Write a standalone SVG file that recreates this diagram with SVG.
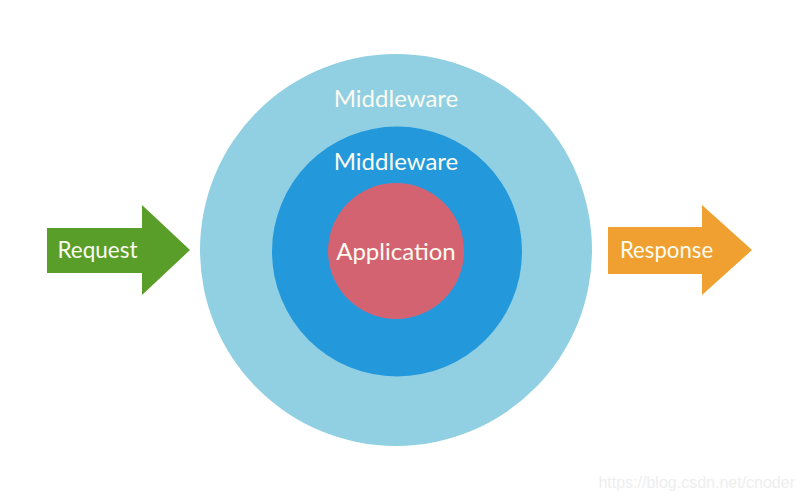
<svg xmlns="http://www.w3.org/2000/svg" width="800" height="500" viewBox="0 0 800 500">
<style>
.lbl{font-family:Lato,"Open Sans","Liberation Sans",sans-serif;fill:#fbfbf0;text-anchor:middle;}
</style>
<rect width="800" height="500" fill="#ffffff"/>
<g id="outer-middleware">
<circle cx="396" cy="250" r="196" fill="#91cfe3"/>
<text class="lbl" x="396" y="107" font-size="24">Middleware</text>
</g>
<g id="inner-middleware">
<circle cx="397" cy="251.5" r="125" fill="#2399dc"/>
<text class="lbl" x="396" y="170" font-size="24">Middleware</text>
</g>
<g id="application">
<circle cx="396" cy="251" r="68" fill="#d46372"/>
<text class="lbl" x="396" y="260" font-size="24">Application</text>
</g>
<g id="request">
<polygon points="47,228 142,228 142,205 190,250 142,295 142,273 47,273" fill="#5a9e2a"/>
<text class="lbl" x="97.5" y="258" font-size="22.5">Request</text>
</g>
<g id="response">
<polygon points="608,227 702,227 702,205 752,250 702,295 702,274 608,274" fill="#f0a030"/>
<text class="lbl" x="666.5" y="258" font-size="22.2">Response</text>
</g>
<g id="connectors"></g>
<text x="795" y="488" font-family="'Liberation Sans',Arial,sans-serif" font-size="16" fill="#eeeeee" text-anchor="end">https://blog.csdn.net/cnoder</text>
</svg>
